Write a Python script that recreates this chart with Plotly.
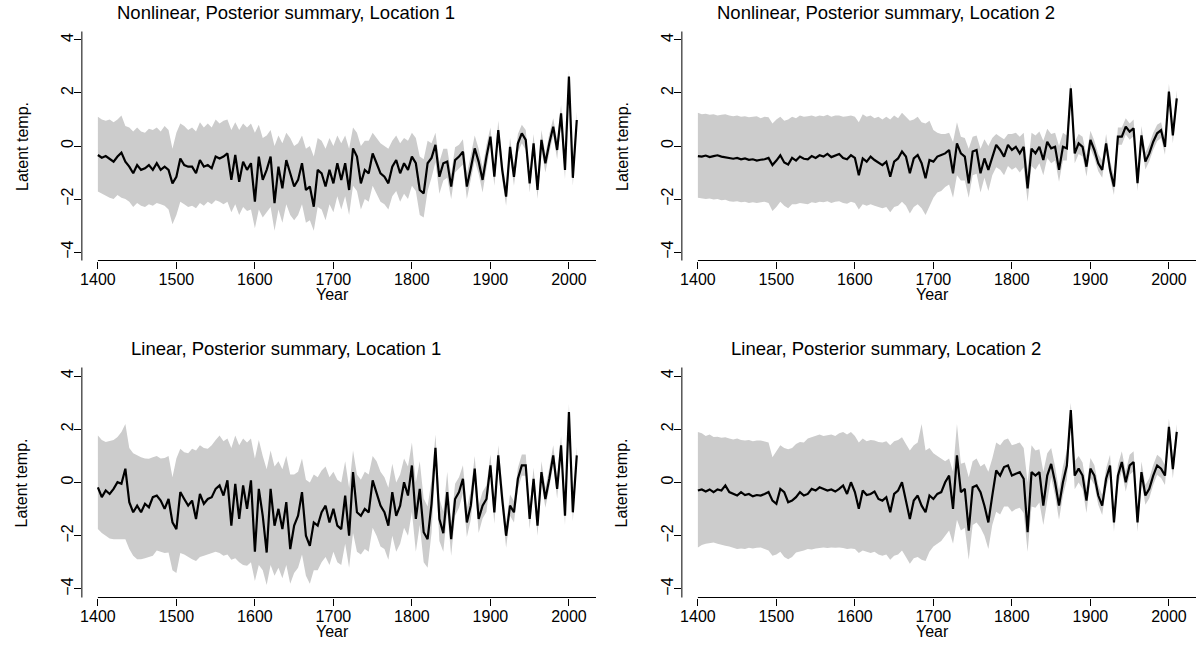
import plotly.graph_objects as go

# ---------------- data (5-year sampling) ----------------
years = list(range(1400, 2011, 5))
x_tick_vals = [1400, 1500, 1600, 1700, 1800, 1900, 2000]
y_tick_vals = [-4, -2, 0, 2, 4]
panel_titles = [
    "Nonlinear, Posterior summary, Location 1",
    "Nonlinear, Posterior summary, Location 2",
    "Linear, Posterior summary, Location 1",
    "Linear, Posterior summary, Location 2",
]

nl1_mean = [
    -0.34, -0.44, -0.38, -0.47, -0.59, -0.40, -0.25, -0.59, -0.78, -1.03,
    -0.72, -0.90, -0.84, -0.72, -0.90, -0.65, -0.90, -0.78, -0.90, -1.41,
    -1.16, -0.47, -0.72, -0.78, -0.78, -1.03, -0.53, -0.78, -0.72, -0.84,
    -0.40, -0.47, -0.40, -0.28, -1.28, -0.34, -1.35, -0.59, -0.90, -0.65,
    -2.10, -0.40, -1.28, -0.90, -0.40, -2.16, -0.78, -1.60, -0.53, -1.03,
    -1.53, -1.28, -0.65, -1.66, -1.53, -2.29, -0.90, -1.03, -1.53, -0.90,
    -1.41, -0.65, -1.28, -0.65, -1.66, -0.09, -0.40, -1.41, -0.90, -1.03,
    -0.28, -0.65, -1.03, -1.16, -1.41, -0.78, -0.53, -1.03, -0.65, -0.90,
    -0.40, -0.65, -1.66, -1.79, -0.65, -0.45, 0.04, -1.16, -0.65, -0.59,
    -1.53, -0.53, -0.40, -0.21, -1.53, -0.84, -0.09, -0.59, -1.28, -0.40,
    0.35, -1.16, 0.60, -0.90, -1.91, -0.03, -1.16, 0.10, 0.48, 0.23,
    -1.41, 0.10, -1.66, 0.23, -0.65, 0.10, 0.73, -0.15, 1.23, -0.90,
    2.62, -1.20, 0.98,
]
nl1_hi = [
    1.10, 1.00, 0.95, 1.00, 0.90, 1.00, 1.15, 0.75, 0.70, 0.55,
    0.70, 0.55, 0.50, 0.65, 0.60, 0.70, 0.55, 0.75, 0.60, -0.10,
    0.50, 0.85, 0.75, 0.60, 0.70, 0.55, 0.90, 0.70, 0.85, 0.70,
    1.00, 0.85, 0.95, 1.00, 0.60, 0.90, 0.60, 0.85, 0.70, 0.85,
    0.50, 0.80, 0.30, 0.40, 0.60, 0.00, 0.40, 0.10, 0.50, 0.30,
    0.00, 0.10, 0.40, -0.10, 0.00, -0.40, 0.30, 0.20, -0.10, 0.30,
    0.00, 0.40, 0.10, 0.40, -0.10, 0.70, 0.50, 0.00, 0.20, 0.20,
    0.50, 0.30, 0.10, 0.00, -0.10, 0.20, 0.40, 0.10, 0.30, 0.20,
    0.50, 0.30, -0.40, -0.50, 0.20, 0.10, 0.50, -0.60, -0.10, -0.10,
    -1.05, -0.05, 0.05, 0.25, -1.05, -0.35, 0.40, -0.10, -0.80, 0.05,
    0.70, -0.80, 0.95, -0.55, -1.55, 0.30, -0.80, 0.45, 0.80, 0.60,
    -1.05, 0.45, -1.30, 0.60, -0.30, 0.45, 1.05, 0.20, 1.55, -0.55,
    2.85, -0.85, 1.30,
]
nl1_lo = [
    -1.72, -1.80, -1.90, -1.95, -2.00, -1.85, -1.95, -2.00, -2.10, -2.30,
    -2.15, -2.25, -2.30, -2.20, -2.25, -2.15, -2.20, -2.25, -2.40, -2.95,
    -2.60, -2.10, -2.20, -2.30, -2.25, -2.35, -2.15, -2.25, -2.10, -2.20,
    -2.05, -2.10, -2.20, -2.10, -2.50, -2.20, -2.60, -2.30, -2.45, -2.40,
    -3.10, -2.40, -2.70, -2.50, -2.30, -3.20, -2.40, -2.90, -2.20, -2.60,
    -2.80, -2.60, -2.20, -2.90, -2.80, -3.20, -2.30, -2.40, -2.80, -2.20,
    -2.50, -1.90, -2.40, -1.90, -2.60, -1.50, -1.70, -2.40, -2.00, -2.10,
    -1.50, -1.80, -2.10, -2.20, -2.40, -1.90, -1.70, -2.10, -1.80, -2.00,
    -1.50, -1.70, -2.60, -2.70, -1.70, -1.20, -0.60, -1.80, -1.30, -1.20,
    -2.00, -1.00, -0.85, -0.70, -2.00, -1.30, -0.55, -1.05, -1.75, -0.85,
    0.00, -1.50, 0.25, -1.25, -2.25, -0.40, -1.50, -0.25, 0.10, -0.15,
    -1.75, -0.25, -2.00, -0.15, -1.00, -0.25, 0.40, -0.50, 0.90, -1.25,
    2.30, -1.50, 0.65,
]

nl2_mean = [
    -0.38, -0.40, -0.36, -0.42, -0.38, -0.35, -0.40, -0.42, -0.45, -0.48,
    -0.45, -0.50, -0.47, -0.52, -0.50, -0.55, -0.52, -0.50, -0.45, -0.72,
    -0.55, -0.35, -0.62, -0.70, -0.45, -0.55, -0.40, -0.48, -0.50, -0.38,
    -0.45, -0.35, -0.40, -0.30, -0.42, -0.35, -0.30, -0.45, -0.50, -0.35,
    -0.45, -1.10, -0.47, -0.59, -0.40, -0.53, -0.63, -0.72, -0.59, -1.16,
    -0.59, -0.47, -0.21, -0.40, -1.03, -0.47, -0.34, -0.65, -1.22, -0.53,
    -0.59, -0.40, -0.34, -0.28, -0.15, -1.03, 0.10, -0.28, -0.40, -1.41,
    -0.21, -0.15, -1.03, -0.47, -0.90, -0.40, 0.04, -0.15, -0.40, 0.04,
    -0.15, -0.03, -0.28, -0.03, -1.60, -0.10, -0.28, -0.03, -0.53, 0.16,
    -0.09, -0.03, -0.90, -0.03, -0.09, 2.18, -0.28, 0.10, -0.03, -0.78,
    0.23, -0.15, -0.65, -0.90, 0.10, -0.90, -1.53, 0.35, 0.35, 0.73,
    0.54, 0.67, -1.40, 0.40, -0.59, -0.28, 0.16, 0.48, 0.60, -0.03,
    2.05, 0.40, 1.80,
]
nl2_hi = [
    1.25, 1.20, 1.22, 1.18, 1.20, 1.15, 1.18, 1.20, 1.15, 1.12,
    1.15, 1.10, 1.12, 1.08, 1.10, 1.12, 1.05, 1.10, 1.08, 0.85,
    1.00, 1.10, 0.95, 1.00, 1.10, 1.05, 1.15, 1.10, 1.12, 1.15,
    1.10, 1.15, 1.12, 1.18, 1.10, 1.15, 1.15, 1.10, 1.12, 1.15,
    1.10, 0.90, 1.20, 1.10, 1.15, 1.05, 1.10, 1.00, 1.10, 1.00,
    1.15, 1.05, 1.25, 1.10, 0.95, 1.00, 1.10, 0.90, 0.85, 0.95,
    0.60, 0.50, 0.45, 0.45, 0.50, 0.15, 0.90, 0.35, 0.30, -0.10,
    0.35, 0.40, -0.10, 0.25, 0.00, 0.30, 0.45, 0.35, 0.25, 0.45,
    0.45, 0.50, 0.35, 0.50, -0.90, 0.50, 0.40, 0.55, 0.20, 0.65,
    0.45, 0.50, 0.00, 0.50, 0.40, 2.40, 0.15, 0.45, 0.35, -0.35,
    0.58, 0.20, -0.30, -0.55, 0.45, -0.55, -1.15, 0.70, 0.70, 1.05,
    0.85, 1.00, -1.05, 0.75, -0.25, 0.07, 0.50, 0.80, 0.90, 0.30,
    2.35, 0.75, 2.10,
]
nl2_lo = [
    -1.95, -1.97, -2.00, -1.98, -2.02, -2.00, -2.05, -2.03, -2.08, -2.10,
    -2.08, -2.12, -2.10, -2.15, -2.12, -2.15, -2.12, -2.10, -2.15, -2.45,
    -2.30, -2.10, -2.25, -2.35, -2.20, -2.20, -2.15, -2.18, -2.20, -2.12,
    -2.15, -2.10, -2.12, -2.08, -2.15, -2.10, -2.08, -2.15, -2.18, -2.10,
    -2.15, -2.40, -2.20, -2.25, -2.20, -2.25, -2.30, -2.35, -2.30, -2.50,
    -2.30, -2.25, -2.10, -2.25, -2.55, -2.30, -2.20, -2.35, -2.60, -2.25,
    -1.95, -1.75, -1.70, -1.55, -1.45, -1.95, -1.10, -1.30, -1.30, -1.95,
    -1.10, -1.05, -1.75, -1.20, -1.70, -1.10, -0.80, -0.90, -1.10, -0.75,
    -0.90, -0.80, -1.00, -0.80, -2.10, -0.75, -0.90, -0.65, -1.10, -0.45,
    -0.65, -0.55, -1.35, -0.55, -0.55, 1.80, -0.65, -0.30, -0.40, -1.15,
    -0.10, -0.45, -0.95, -1.20, -0.20, -1.20, -1.85, 0.05, 0.05, 0.43,
    0.24, 0.37, -1.70, 0.10, -0.89, -0.58, -0.14, 0.18, 0.30, -0.33,
    1.70, 0.10, 1.50,
]

li1_mean = [
    -0.18, -0.55, -0.30, -0.43, -0.24, 0.01, -0.05, 0.52, -0.74, -1.12,
    -0.87, -1.12, -0.80, -0.93, -0.55, -0.49, -0.68, -0.99, -0.62, -1.50,
    -1.75, -0.36, -0.62, -0.87, -0.68, -1.37, -0.43, -0.80, -0.62, -0.55,
    -0.24, -0.11, -0.49, 0.08, -1.62, -0.05, -1.37, -0.11, -0.99, 0.08,
    -2.60, -0.24, -1.25, -2.63, -0.24, -1.62, -0.99, -1.75, -0.74, -2.50,
    -1.62, -1.25, -0.36, -2.00, -2.38, -1.50, -1.62, -1.12, -0.87, -1.50,
    -0.99, -1.62, -1.75, -0.49, -2.00, 0.39, -1.12, -1.25, -0.99, -1.12,
    0.08, -0.36, -0.87, -1.12, -1.62, -0.36, -1.25, -0.87, 0.01, -0.49,
    0.64, -1.37, -0.24, -1.87, -2.13, -0.80, 1.30, -1.37, -1.90, -0.36,
    -2.13, -0.62, -0.36, 0.14, -1.50, -0.87, 0.52, -1.37, -0.87, -0.62,
    0.64, -1.12, 1.02, -0.62, -2.00, -0.87, -1.12, 0.14, 0.64, 0.64,
    -1.37, 0.14, -1.62, 0.39, -0.62, 0.14, 1.02, -0.24, 1.40, -1.25,
    2.65, -1.12, 1.02,
]
li1_hi = [
    1.77, 1.60, 1.52, 1.55, 1.60, 1.71, 1.90, 2.20, 1.30, 1.10,
    1.02, 0.95, 0.90, 0.89, 0.95, 1.00, 0.90, 0.92, 1.00, 0.20,
    0.90, 1.27, 1.14, 1.10, 1.27, 1.20, 1.40, 1.30, 1.27, 1.40,
    1.60, 1.77, 1.55, 1.65, 1.30, 1.77, 1.40, 1.65, 1.50, 1.65,
    0.90, 1.60, 1.00, 0.50, 1.20, 0.60, 0.80, 0.50, 1.00, 0.30,
    0.30, 0.40, 0.90, 0.10, 0.00, 0.30, 0.20, 0.45, 0.60, 0.20,
    0.40, 0.10, 0.00, 0.80, -0.20, 1.20, 0.30, 0.10, 0.40, 0.30,
    1.00, 0.80, 0.40, 0.20, -0.20, 0.70, 0.00, 0.30, 0.90, 0.60,
    1.50, 0.00, 0.80, -0.60, -0.90, 0.10, 1.80, -0.60, -1.10, 0.40,
    -1.50, -0.05, 0.20, 0.65, -0.95, -0.30, 1.00, -0.85, -0.35, -0.10,
    1.05, -0.70, 1.40, -0.20, -1.55, -0.45, -0.70, 0.55, 1.05, 1.05,
    -0.95, 0.55, -1.20, 0.80, -0.20, 0.55, 1.40, 0.15, 1.75, -0.85,
    2.95, -0.75, 1.35,
]
li1_lo = [
    -1.75, -1.90, -2.00, -2.10, -2.13, -2.13, -2.15, -2.13, -2.50, -2.75,
    -2.88, -2.88, -2.85, -2.80, -2.75, -2.55, -2.60, -2.65, -2.63, -3.30,
    -3.40, -2.65, -2.70, -2.80, -2.88, -2.95, -2.80, -2.75, -2.70, -2.63,
    -2.60, -2.65, -2.75, -2.70, -2.90, -2.85, -3.00, -3.10, -3.13, -3.00,
    -3.70, -3.10, -3.30, -3.85, -3.10, -3.50, -3.20, -3.60, -3.10, -3.80,
    -3.40, -3.20, -2.70, -3.50, -3.80, -3.30, -3.30, -3.00, -2.80, -3.10,
    -2.60, -3.00, -3.10, -2.30, -3.20, -1.90, -2.60, -2.70, -2.50, -2.60,
    -1.70, -2.00, -2.40, -2.50, -2.90, -2.00, -2.60, -2.30, -1.70, -2.00,
    -1.10, -2.60, -1.60, -3.00, -3.20, -1.90, 0.70, -2.20, -2.60, -1.10,
    -2.75, -1.25, -0.95, -0.40, -2.05, -1.40, 0.00, -1.90, -1.35, -1.10,
    0.25, -1.55, 0.60, -1.00, -2.45, -1.25, -1.50, -0.25, 0.25, 0.25,
    -1.75, -0.20, -2.00, 0.00, -0.95, -0.20, 0.65, -0.60, 1.05, -1.60,
    2.30, -1.45, 0.70,
]

li2_mean = [
    -0.30, -0.26, -0.34, -0.26, -0.36, -0.26, -0.30, -0.11, -0.36, -0.43,
    -0.49, -0.36, -0.47, -0.43, -0.52, -0.47, -0.49, -0.43, -0.36, -0.68,
    -0.80, -0.24, -0.36, -0.74, -0.68, -0.55, -0.36, -0.49, -0.43, -0.24,
    -0.30, -0.18, -0.24, -0.30, -0.26, -0.34, -0.24, -0.11, -0.43, 0.01,
    -0.36, -0.99, -0.30, -0.47, -0.43, -0.34, -0.62, -0.68, -0.55, -1.12,
    -0.43, -0.30, 0.01, -0.62, -1.37, -0.68, -0.49, -0.87, -1.12, -0.49,
    -0.62, -0.43, -0.36, 0.01, 0.26, -0.99, 1.02, -0.36, -0.24, -1.81,
    -0.18, -0.11, -0.36, -0.87, -1.50, -0.49, 0.45, 0.26, 0.58, 0.64,
    0.26, 0.33, 0.39, 0.14, -1.87, 0.39, 0.26, 0.39, -0.87, 0.26,
    0.70, 0.01, -0.87, 0.01, 0.64, 2.72, 0.26, 0.52, 0.26, -0.68,
    0.52, 0.26, -0.49, -0.87, 0.14, 0.64, -1.50, 0.26, 0.77, 0.01,
    0.64, 0.77, -1.50, 0.39, -0.49, -0.24, 0.26, 0.64, 0.52, 0.26,
    2.09, 0.50, 1.90,
]
li2_hi = [
    1.90, 1.85, 1.75, 1.80, 1.71, 1.72, 1.68, 1.70, 1.65, 1.62,
    1.65, 1.60, 1.58, 1.60, 1.55, 1.58, 1.58, 1.55, 1.50, 0.95,
    1.20, 1.40, 1.30, 1.25, 1.30, 1.45, 1.52, 1.50, 1.65, 1.70,
    1.75, 1.80, 1.75, 1.78, 1.80, 1.75, 1.85, 1.90, 1.80, 1.90,
    1.75, 1.50, 1.65, 1.55, 1.60, 1.58, 1.52, 1.50, 1.55, 1.40,
    1.55, 1.60, 1.70, 1.45, 1.20, 1.40, 1.50, 2.20, 1.20, 1.30,
    1.10, 1.00, 0.90, 0.80, 0.90, 0.40, 2.20, 0.70, 0.75, 0.20,
    0.80, 0.90, 0.60, 0.70, 0.40, 0.90, 1.50, 1.40, 1.60, 1.65,
    1.40, 1.45, 1.50, 1.30, 0.00, 1.40, 1.20, 1.25, 0.40, 1.10,
    1.30, 0.60, -0.30, 0.60, 1.20, 3.00, 0.80, 1.00, 0.75, -0.20,
    0.92, 0.66, -0.09, -0.47, 0.54, 1.04, -1.10, 0.66, 1.17, 0.41,
    1.04, 1.17, -1.10, 0.79, -0.09, 0.16, 0.66, 1.04, 0.92, 0.66,
    2.40, 0.90, 2.20,
]
li2_lo = [
    -2.44, -2.35, -2.30, -2.28, -2.25, -2.30, -2.35, -2.38, -2.40, -2.45,
    -2.50, -2.48, -2.50, -2.45, -2.48, -2.45, -2.44, -2.50, -2.55, -2.75,
    -2.70, -2.60, -2.80, -2.88, -2.80, -2.63, -2.60, -2.55, -2.50, -2.52,
    -2.48, -2.45, -2.44, -2.46, -2.44, -2.45, -2.44, -2.46, -2.50, -2.48,
    -2.50, -2.65, -2.55, -2.60, -2.65, -2.60, -2.70, -2.75, -2.70, -2.90,
    -2.75, -2.70, -2.55, -2.80, -3.05, -2.85, -2.80, -2.90, -2.95, -2.60,
    -2.40, -2.30, -2.20, -2.00, -1.80, -2.30, -1.40, -1.80, -1.70, -2.90,
    -1.60, -1.50, -1.70, -2.00, -2.50, -1.60, -1.10, -1.20, -0.90, -0.90,
    -1.10, -1.00, -0.95, -1.15, -2.60, -0.90, -0.95, -0.75, -1.60, -0.70,
    0.20, -0.50, -1.40, -0.50, 0.10, 2.20, -0.25, 0.00, -0.25, -1.15,
    0.17, -0.09, -0.84, -1.22, -0.21, 0.29, -1.85, -0.09, 0.42, -0.34,
    0.29, 0.42, -1.85, 0.04, -0.84, -0.59, -0.09, 0.29, 0.17, -0.09,
    1.75, 0.15, 1.55,
]

# ---------------- figure ----------------
W, H = 1200, 663
FONT = "Liberation Sans, Arial, Helvetica, sans-serif"
BAND = "#CCCCCC"
X_RANGE = [1379.6, 2034.5]
Y_RANGE = [-4.32, 4.32]

series = [
    (nl1_lo, nl1_hi, nl1_mean),
    (nl2_lo, nl2_hi, nl2_mean),
    (li1_lo, li1_hi, li1_mean),
    (li2_lo, li2_hi, li2_mean),
]

# pixel boxes of the plotting regions (left, right, top, bottom)
boxes = [
    (80, 595, 31.5, 260.5),
    (681, 1196, 31.5, 260.5),
    (80, 595, 367.5, 597.5),
    (681, 1196, 367.5, 597.5),
]
title_cx = [284, 885, 284, 885]
year_cx = [331, 932, 331, 932]
ylab_cx = [20, 621, 20, 621]

fig = go.Figure()
layout = dict(
    width=W, height=H,
    margin=dict(l=0, r=0, t=0, b=0),
    paper_bgcolor="white", plot_bgcolor="white",
    showlegend=False,
    font=dict(family=FONT, size=16, color="black"),
    shapes=[], annotations=[],
)

for i, ((lo, hi, mean), (l, r, t, b), title) in enumerate(zip(series, boxes, panel_titles)):
    k = "" if i == 0 else str(i + 1)
    xa, ya = "x" + k, "y" + k
    fig.add_trace(go.Scatter(x=years, y=lo, mode="lines", line=dict(width=0, color=BAND),
                             hoverinfo="skip", xaxis=xa, yaxis=ya))
    fig.add_trace(go.Scatter(x=years, y=hi, mode="lines", line=dict(width=0, color=BAND),
                             fill="tonexty", fillcolor=BAND, hoverinfo="skip", xaxis=xa, yaxis=ya))
    fig.add_trace(go.Scatter(x=years, y=mean, mode="lines", line=dict(width=2.2, color="black"),
                             xaxis=xa, yaxis=ya))

    layout["xaxis" + k] = dict(
        domain=[l / W, r / W], anchor=ya, range=X_RANGE,
        tickvals=x_tick_vals, ticks="outside", ticklen=7, tickwidth=1, tickcolor="black",
        showgrid=False, zeroline=False, showline=False, ticklabelstandoff=-3,
        tickfont=dict(size=16, family=FONT, color="black"),
    )
    layout["yaxis" + k] = dict(
        domain=[1 - b / H, 1 - t / H], anchor=xa, range=Y_RANGE,
        tickvals=y_tick_vals, ticks="outside", ticklen=7, tickwidth=1, tickcolor="black",
        showgrid=False, zeroline=False, showline=False, tickangle=-90,
        ticklabelstandoff=-6,
        tickfont=dict(size=16, family=FONT, color="black"),
    )
    # axis lines: x from the first tick to the right edge, y over the full height
    layout["shapes"].append(dict(type="line", xref=xa, yref=ya + " domain",
                                 x0=x_tick_vals[0], x1=X_RANGE[1], y0=0, y1=0,
                                 line=dict(color="black", width=1)))
    layout["shapes"].append(dict(type="line", xref=xa + " domain", yref=ya + " domain",
                                 x0=0, x1=0, y0=0, y1=1,
                                 line=dict(color="black", width=1)))
    cy = (t + b) / 2
    layout["annotations"].append(dict(text=title, x=title_cx[i] / W, y=1 - (t - 19.5) / H,
                                      xref="paper", yref="paper", showarrow=False,
                                      font=dict(size=18.5, family=FONT, color="black"),
                                      xanchor="center", yanchor="middle"))
    layout["annotations"].append(dict(text="Year", x=year_cx[i] / W, y=1 - (b + 34) / H,
                                      xref="paper", yref="paper", showarrow=False,
                                      font=dict(size=16, family=FONT, color="black"),
                                      xanchor="center", yanchor="middle"))
    layout["annotations"].append(dict(text="Latent temp.", x=ylab_cx[i] / W, y=1 - cy / H,
                                      xref="paper", yref="paper", showarrow=False,
                                      textangle=-90,
                                      font=dict(size=16, family=FONT, color="black"),
                                      xanchor="center", yanchor="middle"))

fig.update_layout(**layout)
fig.write_html("out.html", config={"displayModeBar": False},
               post_script="document.body.style.margin='0px';")
